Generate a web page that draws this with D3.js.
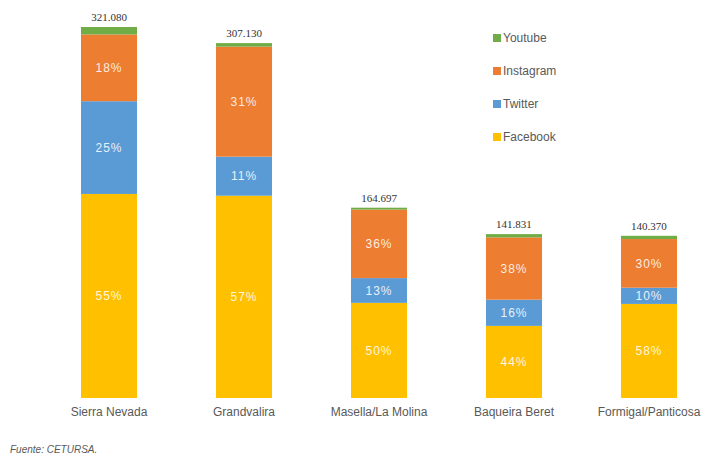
<!DOCTYPE html>
<html>
<head>
<meta charset="utf-8">
<script src="https://cdn.jsdelivr.net/npm/d3@7"></script>
<style>
  body { margin: 0; background: #fff; }
  svg { display: block; }
</style>
</head>
<body>
<div id="chart"></div>
<script>
const estaciones = ['Sierra Nevada', 'Grandvalira', 'Masella/La Molina', 'Baqueira Beret', 'Formigal/Panticosa']
const totales = [321080, 307130, 164697, 141831, 140370]
const totalLabels = ['321.080', '307.130', '164.697', '141.831', '140.370']
const redes = ['Facebook', 'Twitter', 'Instagram', 'Youtube']
const facebook = [55, 57, 50, 44, 58]
const twitter = [25, 11, 13, 16, 10]
const instagram = [18, 31, 36, 38, 30]
const youtube = [2, 1, 1, 2, 2]

const colores = { Facebook: '#ffc000', Twitter: '#5b9bd5', Instagram: '#ed7d31', Youtube: '#70ad47' }

const width = 707
const height = 460

const svg = d3.select('#chart')
  .append('svg')
  .attr('width', width)
  .attr('height', height)

const rows = estaciones.map((e, i) => ({
  estacion: e,
  total: totales[i],
  label: totalLabels[i],
  Facebook: facebook[i],
  Twitter: twitter[i],
  Instagram: instagram[i],
  Youtube: youtube[i]
}))

const x = d3.scaleBand()
  .domain(estaciones)
  .range([40.5, 717.5])
  .paddingInner(0.585)
  .paddingOuter(0.3)

const y = d3.scaleLinear()
  .domain([0, d3.max(totales)])
  .range([398, 27])

const stack = d3.stack().keys(redes)
// each station is stacked in absolute units: share * total / 100
const stacked = stack(rows.map(r => {
  const o = { estacion: r.estacion }
  redes.forEach(k => { o[k] = r[k] * r.total / 100 })
  return o
}))

const layers = svg.append('g')
  .selectAll('g')
  .data(stacked)
  .join('g')
  .attr('fill', d => colores[d.key])

layers.selectAll('rect')
  .data(d => d)
  .join('rect')
  .attr('x', d => x(d.data.estacion))
  .attr('width', x.bandwidth())
  .attr('y', d => y(d[1]))
  .attr('height', d => y(d[0]) - y(d[1]))

// percentage labels (no label for Youtube)
layers.filter(d => d.key !== 'Youtube')
  .selectAll('text')
  .data(d => d.map((s, i) => ({ s, pct: rows[i][d.key] })))
  .join('text')
  .attr('x', d => x(d.s.data.estacion) + x.bandwidth() / 2)
  .attr('y', d => (y(d.s[0]) + y(d.s[1])) / 2)
  .attr('dy', '0.35em')
  .attr('text-anchor', 'middle')
  .attr('fill', '#fff')
  .attr('fill-opacity', 0.88)
  .style('font-family', 'Arial, "Liberation Sans", sans-serif')
  .style('font-size', '12px')
  .style('letter-spacing', '1px')
  .text(d => d.pct + '%')

// totals above bars
svg.append('g')
  .selectAll('text')
  .data(rows)
  .join('text')
  .attr('x', d => x(d.estacion) + x.bandwidth() / 2)
  .attr('y', d => y(d.total) - 6)
  .attr('text-anchor', 'middle')
  .attr('fill', '#333')
  .style('font-family', '"Liberation Serif", "Times New Roman", serif')
  .style('font-size', '11px')
  .text(d => d.label)

// x axis labels
const xAxis = svg.append('g')
  .attr('transform', 'translate(0,398)')
  .call(d3.axisBottom(x).tickSize(0).tickPadding(9))
xAxis.select('.domain').remove()
xAxis.selectAll('text')
  .attr('fill', '#595959')
  .style('font-family', 'Arial, "Liberation Sans", sans-serif')
  .style('font-size', '12px')

// legend
const legendOrder = ['Youtube', 'Instagram', 'Twitter', 'Facebook']
const legendY = d3.scalePoint().domain(legendOrder).range([38, 137])
const legend = svg.append('g')
  .selectAll('g')
  .data(legendOrder)
  .join('g')
  .attr('transform', d => `translate(493,${legendY(d)})`)
legend.append('rect')
  .attr('x', 0)
  .attr('y', -4)
  .attr('width', 8)
  .attr('height', 8)
  .attr('fill', d => colores[d])
legend.append('text')
  .attr('x', 10)
  .attr('dy', '0.35em')
  .attr('fill', '#595959')
  .style('font-family', 'Arial, "Liberation Sans", sans-serif')
  .style('font-size', '12px')
  .text(d => d)

svg.append('text')
  .attr('x', 10)
  .attr('y', 453)
  .attr('fill', '#595959')
  .style('font-family', 'Arial, "Liberation Sans", sans-serif')
  .style('font-size', '10px')
  .style('font-style', 'italic')
  .text('Fuente: CETURSA.')
</script>
</body>
</html>
